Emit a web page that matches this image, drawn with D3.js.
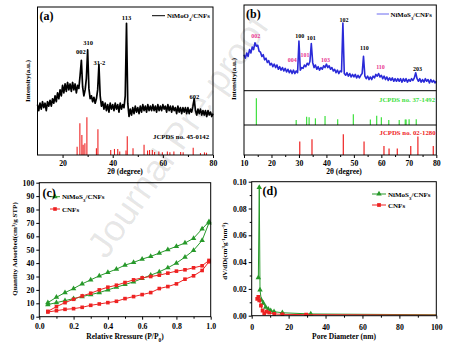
<!DOCTYPE html>
<html><head><meta charset="utf-8">
<script src="https://cdn.jsdelivr.net/npm/d3@7"></script>
<style>
body{margin:0;background:#fff}
svg{display:block}
text{font-family:"Liberation Serif","Times New Roman",serif;font-weight:bold}
</style>
</head><body><svg id="chart" width="459" height="350"></svg>
<script>
// ---------------- DATA ----------------
// (a) XRD NiMoO4/CNFs, 2θ from 10 to 80 in 0.5° steps
const angleStartA = 10, angleStepA = 0.5;
const xrdA = [34,30,35,31,36,32,35,30,36,33,37,33,38,35,40,36,42,38,44,40,
  47,42,48,43,49,44,48,43,49,44,48,42,47,45,54,64,46,40,44,52,
  71,45,38,40,36,39,35,38,44,61,40,33,36,31,35,30,34,29,35,31,
  34,30,35,31,34,29,35,31,34,32,40,89,35,26,31,27,32,28,33,29,
  32,28,33,29,34,30,33,29,34,30,33,30,34,30,33,29,34,30,33,30,
  34,31,33,29,34,30,33,29,33,30,32,28,33,29,32,28,32,29,32,28,
  32,28,31,29,33,38,30,27,31,28,31,27,30,27,30,26,30,27,29,26,28];
const refAPos = [25.8,26.9,27.7,28.2,28.9,29.7,33.5,34.1,39.2,40.7,42.0,42.8,45.3,45.8,48.1,52.5,53.9,54.7,55.8,56.7,58.4,59.8,61.8,62.8,64.4,67.1,68.1,72.1,75.0,76.6,77.4];
const refAInt = [22,84,53,27,31,100,18,68,13,16,16,9,12,50,18,27,12,13,13,8,9,7,9,7,9,8,7,19,5,7,6];
const peakLabelsA = ["002","310","31-2","113","602"];
const peakPosA = [27.3,30.2,34.7,45.5,72.6];
const peakLabelIntA = [68,74,61,91,38];

// (b) XRD NiMoS3/CNFs, 2θ from 10 to 80 in 0.5° steps
const angleStartB = 10, angleStepB = 0.5;
const xrdB = [42,38,44,40,48,44,51,48,56,52,53,46,45,40,42,36,38,33,35,30,
  32,28,31,27,30,25,28,24,27,23,26,22,25,21,24,20,24,20,23,21,
  58,24,27,26,30,28,32,30,34,55,33,27,30,25,28,24,27,25,29,27,
  31,27,29,25,27,23,25,21,24,20,23,22,79,20,18,21,17,20,16,19,
  16,19,15,18,15,18,20,40,17,14,17,13,16,13,17,15,19,17,20,16,
  18,14,17,13,16,12,15,12,15,11,14,11,14,11,14,10,14,11,14,10,
  13,11,14,12,15,21,14,11,14,10,13,10,14,11,13,9,13,10,12,9,11];
const refB1Pos = [14.5,29.0,32.8,33.7,36.0,39.5,44.1,49.8,56.0,58.3,60.0,62.7,66.5,68.7,69.0,70.1,72.7];
const refB1Int = [100,19,31,29,25,34,22,40,21,35,29,19,19,21,21,22,22];
const refB2Pos = [30.3,34.75,46.15,53.7,60.95,62.8,65.8,70.7,73.3,78.9];
const refB2Int = [65,76,100,65,44,32,32,44,89,44];
const peakLabelsB = ["002","100","101","004","101","103","102","110","110","203"];
const peakPosB = [14.3,30.3,34.5,27.6,32.2,39.7,46.4,53.8,59.7,73.2];
const peakLabelIntB = [61,61,59,33,39,34,80,48,25,23];
const peakPhaseB = ["MoS2","NiS","NiS","MoS2","MoS2","MoS2","NiS","NiS","MoS2","NiS"];

// (c) N2 isotherms
const relPressure = [0.05,0.1,0.15,0.2,0.25,0.3,0.35,0.4,0.45,0.5,0.55,0.6,0.65,0.7,0.75,0.8,0.85,0.9,0.95,0.99];
const niAds = [9,10.5,12,13.5,15,16.5,18,20,22,24,26,28.5,31,33.5,36.5,40,44.5,49.5,57,70];
const niDes = [10.5,14.5,18,21,24.5,27.5,30.5,33,35.5,38.5,40.5,43,45,47.5,50,52.5,55,58.5,65.5,71];
const cnfAds = [3.5,4.5,5.5,6,7,8.5,9.5,10.5,11.5,13.5,15,16.5,18,21,22.5,24.5,28,30.5,34.5,41];
const cnfDes = [4,7.5,10.5,13,15.5,17.5,20,22,23.5,25.5,27.5,29,30,31,32.5,34,35,36.5,38,42];

// (d) pore size distribution
const niPore = [3.6,4.1,4.5,5.2,6.3,7.6,9.0,10.3,12.1,16.6,32,130];
const niDV   = [0.0284,0.0958,0.0192,0.0117,0.0093,0.0063,0.0048,0.0037,0.0030,0.0022,0.0013,0.0004];
const cnfPore = [3.0,3.6,4.1,5.0,5.9,6.8,8.1,9.5,12.2,16.6,29.5,130];
const cnfDV   = [0.0125,0.0140,0.0115,0.0075,0.0037,0.0018,0.0030,0.0022,0.0013,0.0010,0.0008,0.0003];

// ---------------- DRAW ----------------
const svg = d3.select("#chart");
const C_BLUE = "#2a2ad8", C_PINK = "#e8358f", C_GREEN_BAR = "#3ee03e", C_RED = "#ee2222", C_GREEN = "#27992a";
const TICK_FS = 7.8;

function frameRect(x0,y0,x1,y1){
  svg.append("rect").attr("x",x0).attr("y",y0).attr("width",x1-x0).attr("height",y1-y0)
    .attr("fill","none").attr("stroke","#000").attr("stroke-width",1);
}
function styleAxis(g){
  g.select(".domain").remove();
  g.attr("font-size",TICK_FS).attr("font-family",'"Liberation Serif","Times New Roman",serif').attr("font-weight","bold");
  g.selectAll("line").attr("stroke","#000");
}
function bottomAxis(x,y,scale,major,minor,fmt,pad){
  svg.append("g").attr("transform",`translate(0,${y})`)
    .call(d3.axisBottom(scale).tickValues(minor).tickSize(2).tickFormat(""))
    .call(styleAxis);
  svg.append("g").attr("transform",`translate(0,${y})`)
    .call(d3.axisBottom(scale).tickValues(major).tickSize(3).tickPadding(pad).tickFormat(fmt))
    .call(styleAxis);
}
function leftAxis(x,scale,major,minor,fmt){
  if(minor) svg.append("g").attr("transform",`translate(${x},0)`)
    .call(d3.axisLeft(scale).tickValues(minor).tickSize(2).tickFormat(""))
    .call(styleAxis);
  svg.append("g").attr("transform",`translate(${x},0)`)
    .call(d3.axisLeft(scale).tickValues(major).tickSize(3).tickPadding(2).tickFormat(fmt))
    .call(styleAxis);
}
function vtitle(x,y,parts,size){
  const t = svg.append("text").attr("transform",`translate(${x},${y}) rotate(-90)`)
    .attr("text-anchor","middle").attr("font-size",size||7);
  addParts(t,parts);
}
function addParts(t,parts){
  parts.forEach(p=>{
    const s = t.append("tspan").text(p[0]);
    if(p[1]==="sub") s.attr("baseline-shift","sub").attr("font-size","70%");
    if(p[1]==="sup") s.attr("baseline-shift","super").attr("font-size","70%");
  });
}
function htext(x,y,parts,size,anchor,fill){
  const t = svg.append("text").attr("x",x).attr("y",y).attr("font-size",size||7)
    .attr("text-anchor",anchor||"start").attr("fill",fill||"#000");
  addParts(t,parts);
  return t;
}

// watermark (drawn under the data)
svg.append("text").attr("transform","translate(178,136) rotate(-55)")
  .attr("text-anchor","middle").attr("dominant-baseline","central")
  .style("font-family",'"Liberation Sans",Arial,sans-serif').style("font-weight","normal")
  .attr("font-size",37).attr("fill","#000").attr("fill-opacity",0.1)
  .text("Journal Pre-proof");

// ===== Panel (a) =====
{
  const A = {x0:37.5,x1:213,y0:7,y1:155};
  const x = d3.scaleLinear().domain([10,80]).range([A.x0,A.x1]);
  const y = d3.scaleLinear().domain([0,100]).range([A.y1,A.y0]);
  const yRef = d3.scaleLinear().domain([0,100]).range([A.y1,A.y1-37.7]);
  svg.append("g").selectAll("line").data(refAPos).join("line")
    .attr("x1",d=>x(d)).attr("x2",d=>x(d)).attr("y1",A.y1)
    .attr("y2",(d,i)=>yRef(refAInt[i])).attr("stroke",C_RED).attr("stroke-width",1.1);
  const line = d3.line().x((d,i)=>x(angleStartA+i*angleStepA)).y(d=>y(d));
  svg.append("path").datum(xrdA).attr("d",line).attr("fill","none").attr("stroke","#000")
    .attr("stroke-width",1.7).attr("stroke-linejoin","round");
  frameRect(A.x0,A.y0,A.x1,A.y1);
  bottomAxis(0,A.y1,x,[20,40,60,80],[30,50,70],d3.format("d"),2);
  peakLabelsA.forEach((t,i)=>htext(x(peakPosA[i]),y(peakLabelIntA[i]),[[t]],6.5,"middle"));
  htext(153,138.5,[["JCPDS no. 45-0142"]],6.8);
  svg.append("line").attr("x1",152).attr("x2",165).attr("y1",15.7).attr("y2",15.7).attr("stroke","#000");
  htext(167,18.2,[["NiMoO"],["4","sub"],["/CNFs"]],6.8);
  htext(39.5,19.8,[["(a)"]],12);
  vtitle(30,81,[["Intensity(a.u.)"]],7);
  htext(125,173.5,[["2θ (degree)"]],7.5,"middle");
}

// ===== Panel (b) =====
{
  const B = {x0:244,x1:436.3,y0:5,y1:155,s1:90.7,s2:125};
  const x = d3.scaleLinear().domain([10,80]).range([B.x0,B.x1]);
  const y = d3.scaleLinear().domain([0,100]).range([B.s1,B.y0]);
  const yG = d3.scaleLinear().domain([0,100]).range([B.s2,B.s2-26.7]);
  const yR = d3.scaleLinear().domain([0,100]).range([B.y1,B.y1-20.7]);
  svg.append("g").selectAll("line").data(refB1Pos).join("line")
    .attr("x1",d=>x(d)).attr("x2",d=>x(d)).attr("y1",B.s2)
    .attr("y2",(d,i)=>yG(refB1Int[i])).attr("stroke",C_GREEN_BAR).attr("stroke-width",1.2);
  svg.append("g").selectAll("line").data(refB2Pos).join("line")
    .attr("x1",d=>x(d)).attr("x2",d=>x(d)).attr("y1",B.y1)
    .attr("y2",(d,i)=>yR(refB2Int[i])).attr("stroke",C_RED).attr("stroke-width",1.2);
  const line = d3.line().x((d,i)=>x(angleStartB+i*angleStepB)).y(d=>y(d));
  svg.append("path").datum(xrdB).attr("d",line).attr("fill","none").attr("stroke",C_BLUE)
    .attr("stroke-width",1.6).attr("stroke-linejoin","round");
  frameRect(B.x0,B.y0,B.x1,B.y1);
  [B.s1,B.s2].forEach(v=>svg.append("line").attr("x1",B.x0).attr("x2",B.x1).attr("y1",v).attr("y2",v).attr("stroke","#000"));
  bottomAxis(0,B.y1,x,[10,20,30,40,50,60,70,80],[15,25,35,45,55,65,75],d3.format("d"),2);
  peakLabelsB.forEach((t,i)=>htext(x(peakPosB[i]),y(peakLabelIntB[i]),[[t]],6,"middle",peakPhaseB[i]==="MoS2"?C_PINK:"#000"));
  htext(379,101.5,[["JCPDS no. 37-1492"]],6.8,"start",C_GREEN_BAR);
  htext(379.5,135,[["JCPDS no. 02-1280"]],6.8,"start",C_RED);
  svg.append("line").attr("x1",376.7).attr("x2",389).attr("y1",14).attr("y2",14).attr("stroke","#6b6bf0");
  htext(390.5,16.5,[["NiMoS"],["3","sub"],["/CNFs"]],6.8);
  htext(246,17.8,[["(b)"]],12);
  vtitle(236,79,[["Intensity(a.u.)"]],7);
  htext(344,173.5,[["2θ (degree)"]],7.5,"middle");
}

// ===== Panel (c) =====
{
  const P = {x0:39.3,x1:210.7,y0:182.7,y1:316.7};
  const x = d3.scaleLinear().domain([0,1]).range([P.x0,P.x1]);
  const y = d3.scaleLinear().domain([0,100]).range([P.y1,P.y0]);
  const line = d3.line().x((d,i)=>x(relPressure[i])).y(d=>y(d));
  const tri = d3.symbol().type(d3.symbolTriangle).size(13);
  const sq = d3.symbol().type(d3.symbolSquare).size(13);
  function series(vals,color,sym){
    svg.append("path").datum(vals).attr("d",line).attr("fill","none").attr("stroke",color).attr("stroke-width",1);
    svg.append("g").selectAll("path").data(vals).join("path").attr("d",sym)
      .attr("transform",(d,i)=>`translate(${x(relPressure[i])},${y(d)})`).attr("fill",color);
  }
  series(niAds,C_GREEN,tri); series(niDes,C_GREEN,tri);
  series(cnfAds,C_RED,sq); series(cnfDes,C_RED,sq);
  frameRect(P.x0,P.y0,P.x1,P.y1);
  bottomAxis(0,P.y1,x,[0,0.2,0.4,0.6,0.8,1.0],[0.1,0.3,0.5,0.7,0.9],d3.format(".1f"),4);
  leftAxis(P.x0,y,d3.range(0,101,10),null,d3.format("d"));
  [[196.7,C_GREEN,tri,[["NiMoS"],["3","sub"],["/CNFs"]]],[209,C_RED,sq,[["CNFs"]]]].forEach(e=>{
    svg.append("line").attr("x1",50).attr("x2",60).attr("y1",e[0]).attr("y2",e[0]).attr("stroke",e[1]);
    svg.append("path").attr("d",e[2]).attr("transform",`translate(55,${e[0]})`).attr("fill",e[1]);
    htext(62,e[0]+2.5,e[3],7);
  });
  htext(42.5,196.5,[["(c)"]],12);
  vtitle(17,249,[["Quantity Adsorbed(cm"],["3","sup"],["/g STP)"]],7);
  htext(125,339,[["Relative Rressure (P/P"],["0","sub"],[")"]],7.5,"middle");
}

// ===== Panel (d) =====
{
  const P = {x0:251.7,x1:436.3,y0:181.7,y1:315.7};
  const x = d3.scaleLinear().domain([0,100]).range([P.x0,P.x1]);
  const y = d3.scaleLinear().domain([0,0.1]).range([P.y1,P.y0]);
  svg.append("clipPath").attr("id","clipD").append("rect")
    .attr("x",P.x0).attr("y",P.y0).attr("width",P.x1-P.x0).attr("height",P.y1-P.y0);
  const g = svg.append("g").attr("clip-path","url(#clipD)");
  const tri = d3.symbol().type(d3.symbolTriangle).size(13);
  const sq = d3.symbol().type(d3.symbolSquare).size(14);
  function series(xs,vals,color,sym){
    const line = d3.line().x((d,i)=>x(xs[i])).y(d=>y(d));
    g.append("path").datum(vals).attr("d",line).attr("fill","none").attr("stroke",color).attr("stroke-width",1);
    g.append("g").selectAll("path").data(vals).join("path").attr("d",sym)
      .attr("transform",(d,i)=>`translate(${x(xs[i])},${y(d)})`).attr("fill",color);
  }
  series(niPore,niDV,C_GREEN,tri);
  series(cnfPore,cnfDV,C_RED,sq);
  frameRect(P.x0,P.y0,P.x1,P.y1);
  bottomAxis(0,P.y1,x,[0,20,40,60,80,100],[10,30,50,70,90],d3.format("d"),6);
  leftAxis(P.x0,y,[0,0.02,0.04,0.06,0.08,0.10],[0.01,0.03,0.05,0.07,0.09],d3.format(".2f"));
  [[194,C_GREEN,tri,[["NiMoS"],["3","sub"],["/CNFs"]]],[205,C_RED,sq,[["CNFs"]]]].forEach(e=>{
    svg.append("line").attr("x1",372).attr("x2",386).attr("y1",e[0]).attr("y2",e[0]).attr("stroke",e[1]);
    svg.append("path").attr("d",e[2]).attr("transform",`translate(379,${e[0]})`).attr("fill",e[1]);
    htext(388,e[0]+2.5,e[3],7);
  });
  htext(262.5,195,[["(d)"]],12);
  vtitle(227,251,[["dV/dD(cm"],["3","sup"],["g"],["-1","sup"],["nm"],["-1","sup"],[")"]],7);
  htext(344,339,[["Pore Diameter (nm)"]],7.5,"middle");
}
</script>
</body></html>
